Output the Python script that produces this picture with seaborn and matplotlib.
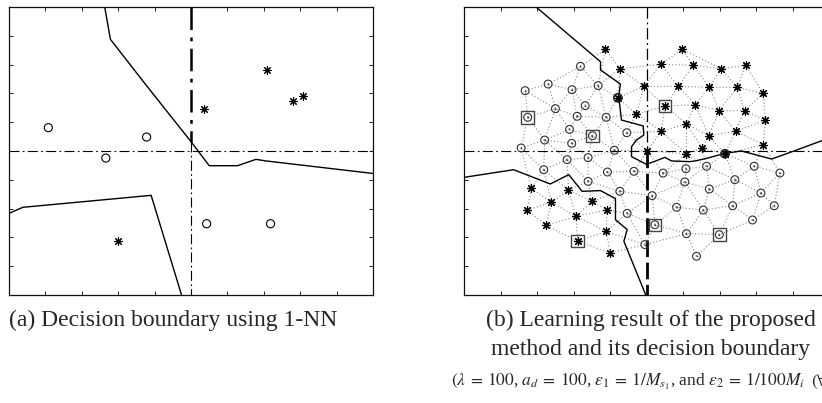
import numpy as np
import pandas as pd
import matplotlib
matplotlib.use("Agg")
import matplotlib.pyplot as plt
import matplotlib.tri as mtri
import seaborn as sns

# ---------------- data: panel (a) ----------------
a_circle_x = [-0.784, -0.244, -0.468, 0.086, 0.437]
a_circle_y = [0.162, 0.097, -0.049, -0.505, -0.505]
a_star_x = [0.073, 0.417, 0.560, 0.618, -0.399]
a_star_y = [0.290, 0.565, 0.345, 0.384, -0.627]
a_bound1_x = [-0.474, -0.443, -0.247, 0.0, 0.100, 0.256, 0.357, 0.412, 1.0]
a_bound1_y = [1.0, 0.776, 0.458, 0.065, -0.102, -0.102, -0.058, -0.069, -0.156]
a_bound2_x = [-1.0, -0.924, -0.219, -0.052]
a_bound2_y = [-0.433, -0.391, -0.308, -1.0]

# ---------------- data: panel (b) ----------------
b_star_x = [-0.225, -0.146, -0.015, -0.157, -0.055, 0.197, 0.077, 0.256, 0.408, 0.543,
            0.174, 0.344, 0.497, 0.640, 0.102, 0.267, 0.399, 0.537, 0.651, 0.219,
            0.080, 0.340, 0.488, 0.640, 0.305, 0.004, 0.219, 0.430,
            -0.631, -0.428, -0.521, -0.300, -0.654, -0.216, -0.386, -0.550, -0.221,
            -0.377, -0.199]
b_star_y = [0.706, 0.572, 0.449, 0.370, 0.255, 0.706, 0.602, 0.595, 0.572, 0.595,
            0.449, 0.442, 0.442, 0.400, 0.312, 0.322, 0.280, 0.280, 0.213, 0.188,
            0.137, 0.106, 0.137, 0.044, 0.019, 0.0, -0.019, -0.019,
            -0.259, -0.271, -0.356, -0.350, -0.410, -0.410, -0.454, -0.516, -0.558,
            -0.627, -0.708]
b_circle_x = [-0.362, -0.539, -0.665, -0.408, -0.265, -0.499, -0.336, -0.651, -0.380, -0.221,
              -0.422, -0.296, -0.108, -0.558, -0.410, -0.687, -0.176,
              -0.435, -0.320, -0.563, -0.214, -0.069, -0.320, -0.146, -0.106, -0.009,
              0.091, 0.216, 0.329, 0.590, 0.731, 0.210, 0.484, 0.344, 0.627, 0.031,
              0.165, 0.311, 0.472, 0.700, 0.046, 0.219, 0.399, 0.581, 0.274]
b_circle_y = [0.588, 0.465, 0.419, 0.426, 0.454, 0.294, 0.315, 0.234, 0.241, 0.234,
              0.150, 0.106, 0.127, 0.076, 0.053, 0.021, 0.005,
              -0.060, -0.046, -0.130, -0.146, -0.141, -0.211, -0.280, -0.433, -0.650,
              -0.153, -0.123, -0.106, -0.106, -0.153, -0.215, -0.199, -0.264, -0.292, -0.310,
              -0.391, -0.410, -0.380, -0.380, -0.512, -0.574, -0.581, -0.479, -0.731]
b_boxed_star = [14, 37]          # indices into star arrays
b_boxed_circle = [7, 11, 40, 42]  # indices into circle arrays
b_ringed_star = [3, 27]          # stars drawn with a ring as well
b_bound1_x = [-0.605, -0.252, -0.252, -0.143, -0.152, -0.137, -0.018, -0.015, -0.055, -0.082,
              -0.082, 0.0, 0.055, 0.101, 0.137, 0.238, 0.274, 0.329, 0.430, 0.521,
              0.686, 0.823, 1.0]
b_bound1_y = [1.0, 0.620, 0.563, 0.465, 0.377, 0.215, 0.174, 0.111, 0.076, 0.030,
              -0.039, -0.093, -0.067, -0.044, -0.069, -0.074, -0.067, -0.051, -0.016, 0.0,
              -0.056, 0.007, 0.090]
b_bound2_x = [-1.0, -0.728, -0.527, -0.426, -0.353, -0.252, -0.170, -0.170, -0.106, -0.124, -0.004]
b_bound2_y = [-0.183, -0.130, -0.229, -0.164, -0.280, -0.275, -0.331, -0.477, -0.546, -0.627, -1.0]

caption_a = "(a) Decision boundary using 1-NN"
caption_b1 = "(b) Learning result of the proposed"
caption_b2 = "method and its decision boundary"
caption_b3 = (r"$(\lambda\:=\:100$, $a_d\:=\:100$, $\varepsilon_1\:=\:1/M_{s_1}$, and "
              r"$\varepsilon_2\:=\:1/100M_i$")
caption_b3_tail = r"$(\forall$"

# ---------------- style ----------------
sns.set_style("ticks")
plt.rcParams["font.family"] = ["Liberation Serif", "DejaVu Serif"]
plt.rcParams["mathtext.fontset"] = "stix"

W, H = 822, 403
fig = plt.figure(figsize=(W / 100, H / 100), dpi=100)
ax_a = fig.add_axes([9 / W, 108 / H, 364 / W, 288 / H])
ax_b = fig.add_axes([464 / W, 108 / H, 365 / W, 288 / H])

ticks = np.round(np.arange(-0.8, 0.81, 0.2), 2)
for ax in (ax_a, ax_b):
    ax.set_xlim(-1, 1)
    ax.set_ylim(-1, 1)
    ax.set_xticks(ticks)
    ax.set_yticks(ticks)
    ax.tick_params(direction="in", length=3, width=0.7, top=True, right=True,
                   labelbottom=False, labelleft=False, color="#222")
    for s in ax.spines.values():
        s.set_linewidth(0.9)
        s.set_color("#111")

DD = (0, (9, 3, 1.5, 3))

# ---------------- panel (a) ----------------
ax_a.plot([-1, 1], [0, 0], color="k", lw=0.8, ls=DD)
ax_a.plot([0, 0], [1, 0.065], color="k", lw=1.8, ls=DD)
ax_a.plot([0, 0], [0.065, -1], color="k", lw=0.8, ls=DD)
sns.lineplot(x=a_bound1_x, y=a_bound1_y, sort=False, estimator=None, color="k", lw=1.0, ax=ax_a)
sns.lineplot(x=a_bound2_x, y=a_bound2_y, sort=False, estimator=None, color="k", lw=1.0, ax=ax_a)
sns.scatterplot(x=a_circle_x, y=a_circle_y, marker="o", s=34, facecolor="none",
                edgecolor="k", linewidth=0.8, ax=ax_a, zorder=5)
sns.scatterplot(x=a_star_x, y=a_star_y, marker=(8, 2, 0), s=30, color="k",
                linewidth=0.8, ax=ax_a, zorder=5)

# ---------------- panel (b) ----------------
nodes_x = np.array(b_star_x + b_circle_x)
nodes_y = np.array(b_star_y + b_circle_y)
px = nodes_x * 182.3
py = nodes_y * 144.0
tri = mtri.Triangulation(px, py)
ex, ey = [], []
for i, j in tri.edges:
    if np.hypot(px[i] - px[j], py[i] - py[j]) < 44:
        ex += [nodes_x[i], nodes_x[j], np.nan]
        ey += [nodes_y[i], nodes_y[j], np.nan]
ax_b.plot(ex, ey, color="#8a8a8a", lw=0.8, ls=(0, (1, 2)), zorder=1)

ax_b.plot([-1, 1.2], [0, 0], color="k", lw=0.8, ls=DD, zorder=2)
ax_b.plot([0, 0], [1, 0], color="k", lw=0.9, ls=DD, zorder=2)
ax_b.plot([0, 0], [0, -1], color="k", lw=2.0, ls=(0, (6, 2)), zorder=2)
sns.lineplot(x=b_bound1_x, y=b_bound1_y, sort=False, estimator=None, color="k", lw=1.0, ax=ax_b)
sns.lineplot(x=b_bound2_x, y=b_bound2_y, sort=False, estimator=None, color="k", lw=1.0, ax=ax_b)

sns.scatterplot(x=b_circle_x, y=b_circle_y, marker="o", s=32, facecolor="none",
                edgecolor="#333", linewidth=0.8, ax=ax_b, zorder=5)
sns.scatterplot(x=b_circle_x, y=b_circle_y, marker="o", s=1.5, color="#444",
                linewidth=0, ax=ax_b, zorder=5)
sns.scatterplot(x=b_star_x, y=b_star_y, marker=(8, 2, 0), s=32, color="k",
                linewidth=0.85, ax=ax_b, zorder=6)
sns.scatterplot(x=[b_star_x[i] for i in b_ringed_star], y=[b_star_y[i] for i in b_ringed_star],
                marker="o", s=34, facecolor="none", edgecolor="#222", linewidth=1.2,
                ax=ax_b, zorder=6)
sns.scatterplot(x=[b_star_x[i] for i in b_boxed_star] + [b_circle_x[i] for i in b_boxed_circle],
                y=[b_star_y[i] for i in b_boxed_star] + [b_circle_y[i] for i in b_boxed_circle],
                marker="s", s=80, facecolor="none", edgecolor="#444", linewidth=1.0,
                ax=ax_b, zorder=7)

for ax in (ax_a, ax_b):
    ax.set_xlim(-1, 1)
    ax.set_ylim(-1, 1)
    ax.set_xlabel("")
    ax.set_ylabel("")

# ---------------- captions ----------------
fs = 17
fig.text(9 / W, 1 - 326 / H, caption_a, fontsize=fs, ha="left", va="baseline")
fig.text(651 / W, 1 - 326 / H, caption_b1, fontsize=fs, ha="center", va="baseline")
fig.text(651 / W, 1 - 355 / H, caption_b2, fontsize=fs, ha="center", va="baseline")
fig.text(805 / W, 1 - 386 / H, caption_b3, fontsize=12.5, ha="right", va="baseline")
fig.text(811 / W, 1 - 386 / H, caption_b3_tail, fontsize=12.5, ha="left", va="baseline")

fig.savefig("out.png", dpi=100)
